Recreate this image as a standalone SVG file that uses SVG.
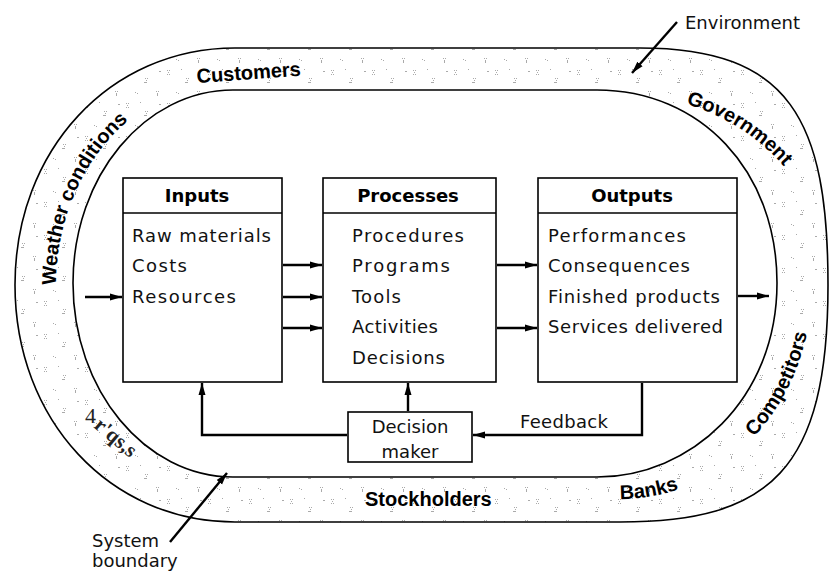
<svg xmlns="http://www.w3.org/2000/svg" width="829" height="575" viewBox="0 0 829 575">
<style>
.box{fill:#fff;stroke:#000;stroke-width:1.6}
.t{font-family:"DejaVu Sans",sans-serif;font-size:18px;fill:#111}
.h{font-family:"DejaVu Sans",sans-serif;font-size:18px;font-weight:bold;fill:#000;text-anchor:middle}
.r{font-family:"Liberation Sans",Arial,sans-serif;font-size:20px;font-weight:bold;fill:#000}
.c{fill:none;stroke:#000;stroke-width:2.4}
.ring{stroke:#000;stroke-width:1.6;fill:url(#stip);fill-rule:evenodd}
</style>
<defs>
<pattern id="stip" patternUnits="userSpaceOnUse" width="41" height="33">
<rect width="41" height="33" fill="#fff"/>
<g fill="#aaa">
<rect x="3" y="4" width="1" height="1"/><rect x="5" y="4" width="1" height="1"/><rect x="4" y="6" width="1" height="1"/><rect x="3" y="8" width="1" height="1"/><rect x="5" y="8" width="1" height="1"/>
<rect x="22" y="12" width="1" height="1"/><rect x="24" y="12" width="1" height="1"/><rect x="23" y="14" width="1" height="1"/><rect x="21" y="16" width="3" height="1"/>
<rect x="33" y="25" width="1" height="1"/><rect x="35" y="25" width="1" height="1"/><rect x="34" y="27" width="1" height="3"/>
<rect x="12" y="26" width="1" height="1"/><rect x="14" y="27" width="1" height="1"/>
<rect x="36" y="5" width="2" height="1"/><rect x="17" y="3" width="1" height="1"/>
</g>
</pattern>
<marker id="ah" markerUnits="userSpaceOnUse" markerWidth="14" markerHeight="10" refX="12" refY="5" orient="auto">
<path d="M0,1.5 L12,5 L0,8.5 Z" fill="#000"/>
</marker>
<path id="pLeft" d="M56,300 L56,285 A179 205 0 0 1 235 80"/>
<path id="pGov" d="M620,94 A209 191 0 0 1 829,285"/>
<path id="pBanks" d="M540,499 L620,499 A198 214 0 0 0 818,285"/>
<path id="pComp" d="M620,497 A192 212 0 0 0 812,285"/>
</defs>

<g id="environment-ring">
<path class="ring" d="M235,48 L640,48 C790,48 828,120 828,285 C828,470 770,522 620,522 L235,522 C110,522 15,420 15,285 C15,150 110,48 235,48 Z M233,90 L597,90 C700,90 777,170 777,283 C777,400 690,477 597,477 L233,477 C145,477 73,390 73,283 C73,176 145,90 233,90 Z"/>
<text class="r" transform="translate(197,83) rotate(-4)">Customers</text>
<text class="r"><textPath href="#pLeft" startOffset="15">Weather conditions</textPath></text>
<text class="r"><textPath href="#pGov" startOffset="67">Government</textPath></text>
<text class="r"><textPath href="#pBanks" startOffset="80">Banks</textPath></text>
<text class="r"><textPath href="#pComp" startOffset="151">Competitors</textPath></text>
<text class="r" x="365" y="506">Stockholders</text>
<text x="85" y="423" font-family="Liberation Serif,serif" font-size="22" fill="#222">4</text>
<text transform="translate(93,427) rotate(40)" font-family="Liberation Serif,serif" font-size="21" font-weight="bold" fill="#222">r'qs,s</text>
</g>

<g id="inputs">
<rect class="box" x="123" y="178" width="159" height="204"/>
<line x1="123" y1="213" x2="282" y2="213" stroke="#000" stroke-width="1.6"/>
<text class="h" x="197" y="202">Inputs</text>
<text class="t" x="132" y="242" textLength="139">Raw materials</text>
<text class="t" x="132" y="272" textLength="55">Costs</text>
<text class="t" x="132" y="303" textLength="104">Resources</text>
</g>

<g id="processes">
<rect class="box" x="323" y="178" width="173" height="204"/>
<line x1="323" y1="213" x2="496" y2="213" stroke="#000" stroke-width="1.6"/>
<text class="h" x="408" y="202">Processes</text>
<text class="t" x="352" y="242" textLength="112">Procedures</text>
<text class="t" x="352" y="272" textLength="98">Programs</text>
<text class="t" x="352" y="303" textLength="49">Tools</text>
<text class="t" x="352" y="333" textLength="86">Activities</text>
<text class="t" x="352" y="364" textLength="93">Decisions</text>
</g>

<g id="outputs">
<rect class="box" x="538" y="178" width="199" height="204"/>
<line x1="538" y1="213" x2="737" y2="213" stroke="#000" stroke-width="1.6"/>
<text class="h" x="632" y="202">Outputs</text>
<text class="t" x="548" y="242" textLength="138">Performances</text>
<text class="t" x="548" y="272" textLength="142">Consequences</text>
<text class="t" x="548" y="303" textLength="172">Finished products</text>
<text class="t" x="548" y="333" textLength="175">Services delivered</text>
</g>

<g id="decision-maker">
<rect class="box" x="348" y="412" width="124" height="50"/>
<text class="t" x="410" y="433" text-anchor="middle">Decision</text>
<text class="t" x="410" y="458" text-anchor="middle">maker</text>
</g>

<g id="labels">
<text class="t" x="520" y="428" textLength="88">Feedback</text>
<text class="t" x="685" y="29">Environment</text>
<text class="t" x="92" y="547">System</text>
<text class="t" x="92" y="567">boundary</text>
</g>

<g id="connectors">
<line class="c" x1="85" y1="297" x2="122" y2="297" marker-end="url(#ah)"/>
<line class="c" x1="283" y1="265" x2="322" y2="265" marker-end="url(#ah)"/>
<line class="c" x1="283" y1="297" x2="322" y2="297" marker-end="url(#ah)"/>
<line class="c" x1="283" y1="328" x2="322" y2="328" marker-end="url(#ah)"/>
<line class="c" x1="497" y1="265" x2="537" y2="265" marker-end="url(#ah)"/>
<line class="c" x1="497" y1="328" x2="537" y2="328" marker-end="url(#ah)"/>
<line class="c" x1="738" y1="296" x2="769" y2="296" marker-end="url(#ah)"/>
<path class="c" d="M642,383 V435 H473" marker-end="url(#ah)"/>
<line class="c" x1="408" y1="411" x2="408" y2="383" marker-end="url(#ah)"/>
<path class="c" d="M347,435 H202 V383" marker-end="url(#ah)"/>
<line class="c" x1="677" y1="22" x2="632" y2="73" stroke-width="3" marker-end="url(#ah)"/>
<line class="c" x1="170" y1="542" x2="227" y2="473" stroke-width="3" marker-end="url(#ah)"/>
</g>
</svg>
